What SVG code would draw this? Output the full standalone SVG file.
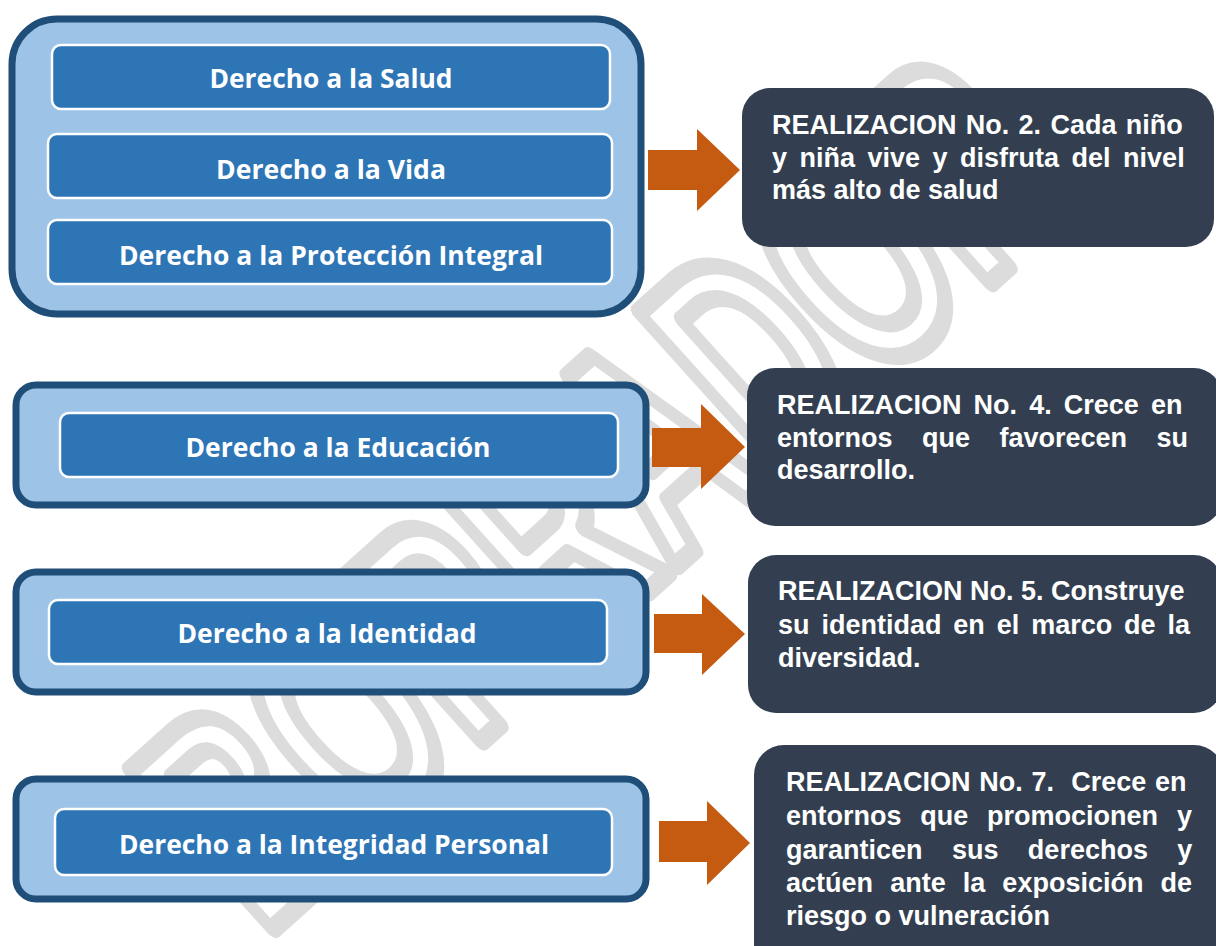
<svg xmlns="http://www.w3.org/2000/svg" width="1216" height="946" viewBox="0 0 1216 946">
<style>
.wm{font-family:"Liberation Sans",Arial,sans-serif;font-weight:700;font-size:310px;fill:none;stroke:#dcdcdc;stroke-width:20;stroke-linejoin:round}
.outer{fill:#9dc3e6;stroke:#1f4e79;stroke-width:7}
.inner{fill:#2e75b6;stroke:#ffffff;stroke-width:2.5}
.lt{font-family:"Open Sans","Noto Sans",sans-serif;font-weight:700;font-size:27px;fill:#ffffff;text-anchor:middle}
.dark{fill:#333f50}
.rt{font-family:"Liberation Sans",Arial,sans-serif;font-weight:700;font-size:27px;fill:#ffffff}
.arrow{fill:#c55a11}
</style>
<rect width="1216" height="946" fill="#ffffff"/>
<text class="wm" x="0" y="0" text-anchor="middle" dominant-baseline="central" textLength="1100" lengthAdjust="spacingAndGlyphs" transform="translate(600,490) rotate(-42)">BORRADOR</text>

<g id="group-salud-vida-proteccion">
<rect class="outer" x="12" y="19" width="629" height="295" rx="45"/>
<g id="salud"><rect class="inner" x="52" y="45" width="558" height="64" rx="9"/><text class="lt" x="331" y="88" textLength="243" lengthAdjust="spacingAndGlyphs">Derecho a la Salud</text></g>
<g id="vida"><rect class="inner" x="48" y="134" width="564" height="64" rx="9"/><text class="lt" x="331" y="179" textLength="230" lengthAdjust="spacingAndGlyphs">Derecho a la Vida</text></g>
<g id="proteccion"><rect class="inner" x="48" y="220" width="564" height="64" rx="9"/><text class="lt" x="331" y="265" textLength="424" lengthAdjust="spacingAndGlyphs">Derecho a la Protección Integral</text></g>
</g>

<g id="group-educacion">
<rect class="outer" x="16" y="385" width="630" height="120" rx="20"/>
<g id="educacion"><rect class="inner" x="60" y="413" width="558" height="64" rx="9"/><text class="lt" x="338" y="457" textLength="305" lengthAdjust="spacingAndGlyphs">Derecho a la Educación</text></g>
</g>

<g id="group-identidad">
<rect class="outer" x="16" y="572" width="630" height="120" rx="20"/>
<g id="identidad"><rect class="inner" x="49" y="600" width="558" height="64" rx="9"/><text class="lt" x="327" y="643" textLength="299" lengthAdjust="spacingAndGlyphs">Derecho a la Identidad</text></g>
</g>

<g id="group-integridad">
<rect class="outer" x="16" y="779" width="630" height="120" rx="20"/>
<g id="integridad"><rect class="inner" x="55" y="809" width="557" height="66" rx="9"/><text class="lt" x="334" y="854" textLength="430" lengthAdjust="spacingAndGlyphs">Derecho a la Integridad Personal</text></g>
</g>

<g id="realizacion-2">
<rect class="dark" x="742" y="88" width="472" height="159" rx="28"/>
<text class="rt" x="772" y="134" style="word-spacing:1.8px">REALIZACION No. 2. Cada niño</text>
<text class="rt" x="772" y="167" style="word-spacing:5px">y niña vive y disfruta del nivel</text>
<text class="rt" x="772" y="199">más alto de salud</text>
</g>

<g id="realizacion-4">
<rect class="dark" x="747" y="368" width="475" height="158" rx="28"/>
<text class="rt" x="777" y="414" style="word-spacing:4.6px">REALIZACION No. 4. Crece en</text>
<text class="rt" x="777" y="447" style="word-spacing:22px">entornos que favorecen su</text>
<text class="rt" x="777" y="479">desarrollo.</text>
</g>

<g id="realizacion-5">
<rect class="dark" x="748" y="555" width="474" height="158" rx="28"/>
<text class="rt" x="778" y="600">REALIZACION No. 5. Construye</text>
<text class="rt" x="778" y="634" style="word-spacing:4.4px">su identidad en el marco de la</text>
<text class="rt" x="778" y="667">diversidad.</text>
</g>

<g id="realizacion-7">
<rect class="dark" x="754" y="745" width="470" height="230" rx="30"/>
<text class="rt" x="786" y="791" style="white-space:pre;word-spacing:1.2px">REALIZACION No. 7.  Crece en</text>
<text class="rt" x="786" y="825" style="word-spacing:11.3px">entornos que promocionen y</text>
<text class="rt" x="786" y="859" style="word-spacing:21.9px">garanticen sus derechos y</text>
<text class="rt" x="786" y="892" style="word-spacing:9.6px">actúen ante la exposición de</text>
<text class="rt" x="786" y="925">riesgo o vulneración</text>
</g>

<g id="connectors">
<polygon class="arrow" points="648,150 697,150 697,129 740,170 697,211 697,190 648,190"/>
<polygon class="arrow" points="652,428 701,428 701,404 745,447 701,489 701,467 652,467"/>
<polygon class="arrow" points="654,614 702,614 702,594 745,634 702,675 702,653 654,653"/>
<polygon class="arrow" points="659,821 707,821 707,801 750,843 707,885 707,862 659,862"/>
</g>
</svg>
